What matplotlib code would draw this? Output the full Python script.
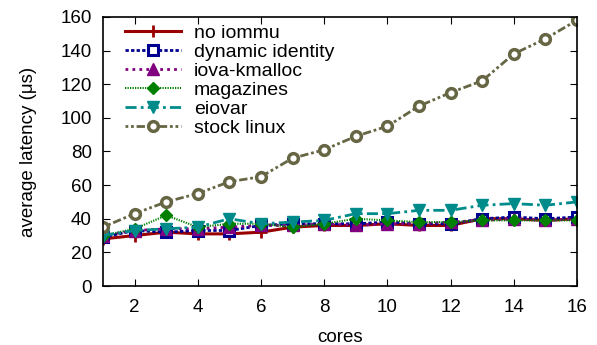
import matplotlib
matplotlib.use('Agg')
import matplotlib.pyplot as plt
import numpy as np

plt.rcParams.update({'font.size': 13.5, 'font.family': ['Liberation Sans', 'DejaVu Sans']})

cores = list(range(1, 17))
no_iommu = [28, 30, 32, 31, 31, 32, 35, 36, 36, 37, 36, 36, 40, 40, 39, 40]
dynamic_identity = [29, 33, 32, 33, 33, 36, 37, 37, 37, 38, 37, 37, 40, 41, 40, 41]
iova_kmalloc = [30, 33, 34, 34, 35, 36, 36, 37, 36, 37, 37, 38, 39, 40, 39, 40]
magazines = [30, 34, 42, 35, 37, 37, 35, 37, 40, 39, 38, 38, 39, 39, 39, 39]
eiovar = [30, 33, 34, 35, 40, 37, 38, 39, 43, 43, 45, 45, 48, 49, 48, 50]
stock_linux = [35, 43, 50, 55, 62, 65, 76, 81, 89, 95, 107, 115, 122, 138, 147, 158]

fig = plt.figure(figsize=(5.97, 3.45), dpi=100)
ax = fig.add_axes([0.1725, 0.171, 0.794, 0.78])

ax.plot(cores, no_iommu, color='#990000', lw=2.2, ls='-', marker='+', ms=8, mew=2,
        label='no iommu')
ax.plot(cores, dynamic_identity, color='#000090', lw=2, ls=(0, (1.2, 0.8)), marker='s', ms=6.5,
        mfc='white', mec='#000090', mew=2.2, label='dynamic identity')
ax.plot(cores, iova_kmalloc, color='#800080', lw=2, ls=(0, (1, 1.5)), marker='^', ms=8,
        label='iova-kmalloc')
ax.plot(cores, magazines, color='#008000', lw=1.5, ls=(0, (0.6, 0.6)), marker='D', ms=6.5,
        label='magazines')
ax.plot(cores, eiovar, color='#008b8b', lw=2, ls=(0, (4, 1.5, 1, 1.5)), marker='v', ms=9,
        label='eiovar')
ax.plot(cores, stock_linux, color='#666644', lw=2, ls=(0, (1, 1, 1, 1, 3, 1)), marker='o', ms=7,
        mfc='white', mec='#666644', mew=2.5, label='stock linux')

ax.set_xlim(1, 16)
ax.set_ylim(0, 160)
ax.set_xticks(range(2, 17, 2))
ax.set_yticks(range(0, 161, 20))
ax.tick_params(direction='in', top=True, right=True, length=5)
ax.tick_params(axis='x', pad=9)
ax.tick_params(axis='y', pad=8)
ax.set_xlabel('cores', labelpad=10)
ax.set_ylabel('average latency (μs)', labelpad=17)
for s in ax.spines.values():
    s.set_linewidth(1.2)

ax.legend(loc='upper left', frameon=False, fontsize=14, handlelength=2.9, labelspacing=0.07,
          borderaxespad=0.0, handletextpad=0.65, bbox_to_anchor=(0.03, 1.0))

fig.savefig('out.png', dpi=100)
